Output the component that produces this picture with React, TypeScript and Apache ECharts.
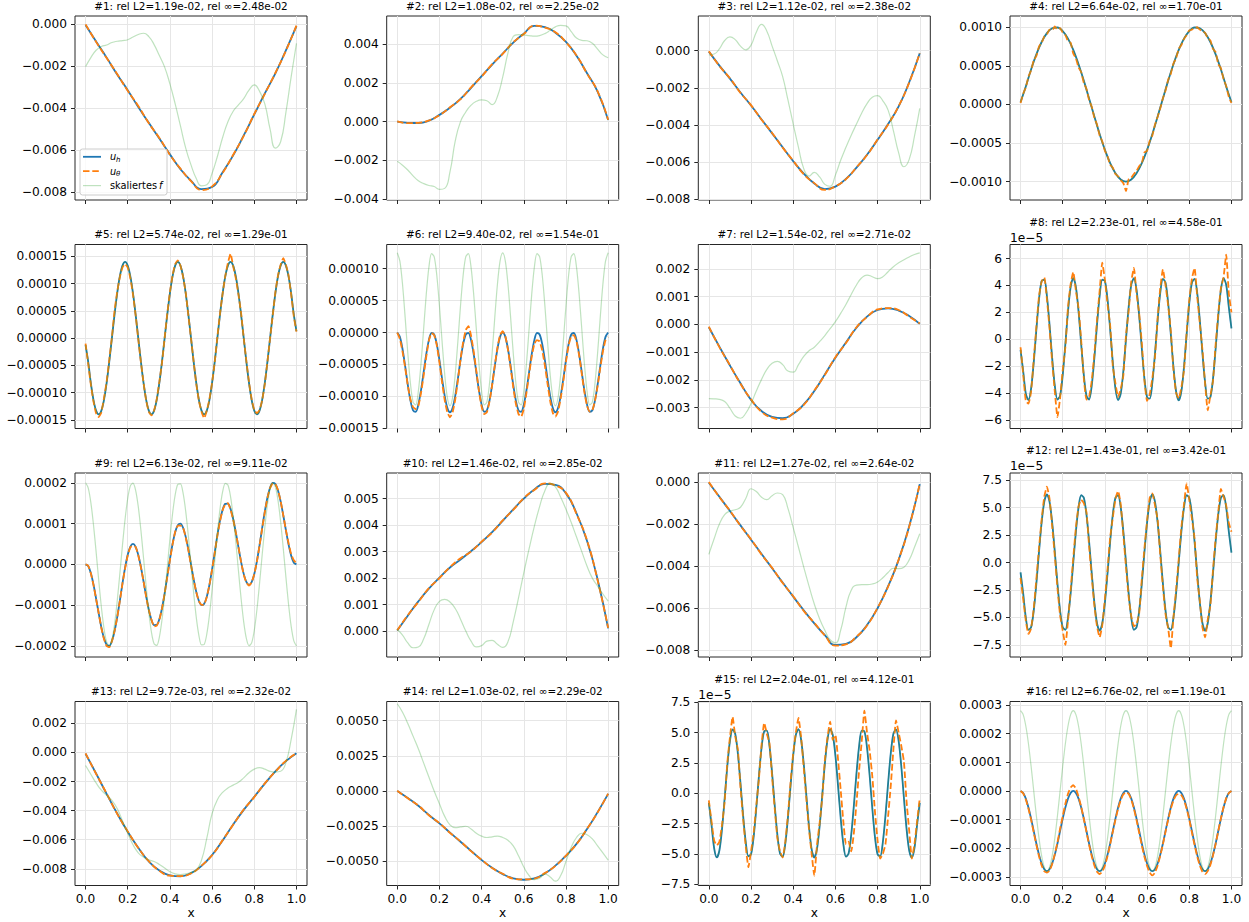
import React, { useEffect, useRef } from "react";
import * as echarts from "echarts";

// ---------- x grids and ticks ----------
const X21 = Array.from({ length: 21 }, (_, i) => i / 20);
const X41 = Array.from({ length: 41 }, (_, i) => i / 40);
const X81 = Array.from({ length: 81 }, (_, i) => i / 80);
const X_TICKS = [0, 0.2, 0.4, 0.6, 0.8, 1.0];

const TITLES = [
  "#1: rel L2=1.19e-02, rel ∞=2.48e-02",
  "#2: rel L2=1.08e-02, rel ∞=2.25e-02",
  "#3: rel L2=1.12e-02, rel ∞=2.38e-02",
  "#4: rel L2=6.64e-02, rel ∞=1.70e-01",
  "#5: rel L2=5.74e-02, rel ∞=1.29e-01",
  "#6: rel L2=9.40e-02, rel ∞=1.54e-01",
  "#7: rel L2=1.54e-02, rel ∞=2.71e-02",
  "#8: rel L2=2.23e-01, rel ∞=4.58e-01",
  "#9: rel L2=6.13e-02, rel ∞=9.11e-02",
  "#10: rel L2=1.46e-02, rel ∞=2.85e-02",
  "#11: rel L2=1.27e-02, rel ∞=2.64e-02",
  "#12: rel L2=1.43e-01, rel ∞=3.42e-01",
  "#13: rel L2=9.72e-03, rel ∞=2.32e-02",
  "#14: rel L2=1.03e-02, rel ∞=2.29e-02",
  "#15: rel L2=2.04e-01, rel ∞=4.12e-01",
  "#16: rel L2=6.76e-02, rel ∞=1.19e-01",
];

// ---------- #1 (units 1e-3) ----------
const uh1 = [-0.05,-0.83,-1.6,-2.4,-3.15,-3.95,-4.7,-5.45,-6.2,-6.9,-7.45,-7.85,-7.75,-7.05,-6.25,-5.3,-4.3,-3.3,-2.35,-1.25,-0.1];
const ut1 = [-0.02,-0.85,-1.62,-2.38,-3.18,-3.9,-4.72,-5.42,-6.22,-6.88,-7.47,-7.9,-7.72,-7.08,-6.22,-5.32,-4.28,-3.32,-2.33,-1.27,-0.08];
const f1 = [-2.03,-1.6,-1.25,-1.07,-1.0,-0.88,-0.82,-0.79,-0.75,-0.62,-0.5,-0.44,-0.6,-0.98,-1.5,-2.05,-2.85,-3.8,-4.85,-5.9,-6.7,-7.35,-7.7,-7.65,-7.1,-6.3,-5.4,-4.65,-4.15,-3.85,-3.55,-3.15,-2.9,-3.2,-3.8,-5.0,-5.9,-5.6,-4.2,-2.5,-0.92];

// ---------- #2 (units 1e-3) ----------
const uh2 = [0,-0.06,-0.07,0.05,0.35,0.72,1.18,1.75,2.35,2.95,3.52,4.08,4.55,4.95,4.88,4.6,4.12,3.4,2.5,1.55,0.08];
const ut2 = [0.01,-0.08,-0.06,0.06,0.33,0.74,1.16,1.77,2.33,2.97,3.5,4.1,4.53,4.96,4.86,4.62,4.1,3.42,2.48,1.57,0.1];
const f2 = [-2.05,-2.25,-2.5,-2.8,-3.05,-3.2,-3.3,-3.35,-3.5,-3.45,-2.6,-1.0,0.0,0.5,0.85,1.05,1.12,1.08,0.88,1.3,2.3,3.55,4.4,4.5,4.48,4.45,4.42,4.45,4.55,4.72,4.9,4.98,4.95,4.65,4.32,4.2,4.18,4.05,3.75,3.45,3.3];

// ---------- #3 (units 1e-3) ----------
const uh3 = [-0.05,-0.8,-1.5,-2.25,-2.95,-3.7,-4.45,-5.2,-5.95,-6.62,-7.15,-7.45,-7.32,-6.9,-6.3,-5.6,-4.8,-3.95,-3.0,-1.7,-0.14];
const ut3 = [-0.03,-0.82,-1.48,-2.27,-2.93,-3.72,-4.43,-5.22,-5.93,-6.65,-7.13,-7.5,-7.3,-6.92,-6.28,-5.62,-4.78,-3.97,-2.98,-1.72,-0.12];
const f3 = [-0.23,-0.18,0.1,0.55,0.75,0.6,0.25,0.05,0.3,1.0,1.42,1.05,0.25,-0.55,-1.4,-2.65,-3.95,-5.2,-6.35,-6.75,-6.55,-6.8,-7.2,-7.3,-6.7,-5.9,-5.2,-4.55,-3.95,-3.35,-2.85,-2.5,-2.42,-2.7,-3.2,-4.3,-5.5,-6.25,-5.85,-4.6,-3.1];

// ---------- #4 (units 1e-3) ----------
const uh4 = [0.03,0.233,0.454,0.649,0.809,0.924,0.988,0.997,0.951,0.853,0.707,0.522,0.309,0.078,-0.156,-0.383,-0.588,-0.76,-0.891,-0.972,-1.0,-0.972,-0.891,-0.76,-0.588,-0.383,-0.156,0.078,0.309,0.522,0.707,0.853,0.951,0.997,0.988,0.924,0.809,0.649,0.454,0.233,0.03];
const ut4 = [0.02,0.14,0.22,0.36,0.44,0.57,0.63,0.75,0.8,0.88,0.91,0.97,0.96,1.01,0.97,0.99,0.93,0.9,0.82,0.8,
  0.66,0.6,0.48,0.42,0.28,0.2,0.06,-0.03,-0.17,-0.26,-0.4,-0.48,-0.6,-0.67,-0.78,-0.82,-0.9,-0.93,-0.98,-1.02,
  -1.12,-0.97,-0.95,-0.9,-0.86,-0.8,-0.76,-0.62,-0.6,-0.47,-0.4,-0.26,-0.16,-0.05,0.08,0.18,0.32,0.4,0.53,0.6,
  0.72,0.77,0.85,0.9,0.96,0.97,0.99,1.0,0.97,0.95,0.93,0.86,0.83,0.72,0.68,0.52,0.47,0.33,0.24,0.1,0.02];

// ---------- #5 (units 1e-4) ----------
const uh5 = [-0.13,-0.433,-0.823,-1.133,-1.331,-1.4,-1.331,-1.133,-0.823,-0.433,0,0.433,0.823,1.133,1.331,1.4,1.331,1.133,0.823,0.433,
  0,-0.433,-0.823,-1.133,-1.331,-1.4,-1.331,-1.133,-0.823,-0.433,0,0.433,0.823,1.133,1.331,1.4,1.331,1.133,0.823,0.433,
  0,-0.433,-0.823,-1.133,-1.331,-1.4,-1.331,-1.133,-0.823,-0.433,0,0.433,0.823,1.133,1.331,1.4,1.331,1.133,0.823,0.433,
  0,-0.433,-0.823,-1.133,-1.331,-1.4,-1.331,-1.133,-0.823,-0.433,0,0.433,0.823,1.133,1.331,1.4,1.331,1.133,0.823,0.433,0.13];
const ut5 = [-0.1,-0.47,-0.85,-1.16,-1.38,-1.45,-1.36,-1.1,-0.8,-0.4,0.02,0.5,0.85,1.12,1.3,1.36,1.3,1.1,0.8,0.42,
  -0.02,-0.44,-0.82,-1.15,-1.35,-1.42,-1.33,-1.12,-0.8,-0.45,0.0,0.45,0.84,1.15,1.36,1.43,1.33,1.13,0.83,0.42,
  0.0,-0.43,-0.84,-1.15,-1.35,-1.47,-1.33,-1.12,-0.82,-0.44,0.02,0.45,0.82,1.14,1.38,1.55,1.32,1.1,0.8,0.46,
  0.0,-0.42,-0.81,-1.12,-1.32,-1.38,-1.32,-1.14,-0.84,-0.43,0.0,0.42,0.84,1.15,1.35,1.47,1.35,1.15,0.8,0.4,0.12];

// ---------- #6 (units 1e-4) ----------
const uh6 = [0,-0.068,-0.258,-0.527,-0.818,-1.067,-1.219,-1.242,-1.131,-0.909,-0.625,-0.341,-0.119,-0.008,-0.031,-0.183,-0.432,-0.723,-0.993,-1.182,
  -1.25,-1.182,-0.993,-0.723,-0.432,-0.183,-0.031,-0.008,-0.119,-0.341,-0.625,-0.909,-1.131,-1.242,-1.219,-1.067,-0.818,-0.527,-0.258,-0.068,
  0,-0.068,-0.258,-0.527,-0.818,-1.067,-1.219,-1.242,-1.131,-0.909,-0.625,-0.341,-0.119,-0.008,-0.031,-0.183,-0.432,-0.723,-0.993,-1.182,
  -1.25,-1.182,-0.993,-0.723,-0.432,-0.183,-0.031,-0.008,-0.119,-0.341,-0.625,-0.909,-1.131,-1.242,-1.219,-1.067,-0.818,-0.527,-0.258,-0.068,0];
const ut6 = [0.0,-0.1,-0.3,-0.55,-0.83,-1.05,-1.17,-1.2,-1.15,-0.95,-0.68,-0.38,-0.13,-0.01,-0.04,-0.2,-0.47,-0.78,-1.06,-1.25,
  -1.33,-1.25,-1.05,-0.75,-0.42,-0.15,0.04,0.1,-0.05,-0.3,-0.6,-0.92,-1.16,-1.28,-1.25,-1.08,-0.82,-0.52,-0.24,-0.04,
  0.02,-0.06,-0.27,-0.55,-0.86,-1.12,-1.28,-1.32,-1.2,-0.95,-0.66,-0.38,-0.18,-0.12,-0.14,-0.28,-0.52,-0.8,-1.07,-1.26,
  -1.32,-1.24,-1.03,-0.76,-0.46,-0.2,-0.06,-0.04,-0.14,-0.36,-0.65,-0.94,-1.15,-1.24,-1.22,-1.07,-0.84,-0.56,-0.3,-0.12,-0.07];
const f6 = [1.25,1.119,0.756,0.237,-0.321,-0.798,-1.091,-1.136,-0.921,-0.495,0.05,0.595,1.021,1.236,1.191,0.898,0.421,-0.137,-0.656,-1.019,
  -1.15,-1.019,-0.656,-0.137,0.421,0.898,1.191,1.236,1.021,0.595,0.05,-0.495,-0.921,-1.136,-1.091,-0.798,-0.321,0.237,0.756,1.119,
  1.25,1.119,0.756,0.237,-0.321,-0.798,-1.091,-1.136,-0.921,-0.495,0.05,0.595,1.021,1.236,1.191,0.898,0.421,-0.137,-0.656,-1.019,
  -1.15,-1.019,-0.656,-0.137,0.421,0.898,1.191,1.236,1.021,0.595,0.05,-0.495,-0.921,-1.136,-1.091,-0.798,-0.321,0.237,0.756,1.119,1.25];

// ---------- #7 (units 1e-3) ----------
const uh7 = [-0.1,-0.8,-1.48,-2.12,-2.72,-3.12,-3.33,-3.38,-3.22,-2.88,-2.4,-1.8,-1.2,-0.65,-0.12,0.28,0.52,0.58,0.5,0.3,0.02];
const ut7 = [-0.08,-0.82,-1.47,-2.14,-2.7,-3.15,-3.36,-3.42,-3.2,-2.9,-2.38,-1.82,-1.18,-0.67,-0.1,0.27,0.54,0.59,0.52,0.28,0.03];
const f7 = [-2.67,-2.68,-2.7,-2.78,-3.02,-3.3,-3.38,-3.2,-2.85,-2.4,-1.98,-1.62,-1.4,-1.33,-1.45,-1.68,-1.72,-1.45,-1.15,-0.95,-0.82,-0.62,-0.4,-0.15,0.1,0.4,0.72,1.08,1.42,1.68,1.78,1.72,1.65,1.72,1.9,2.08,2.22,2.33,2.43,2.52,2.58];

// ---------- #8 (units 1e-5) ----------
const uh8 = [-0.8,-2.377,-4.054,-4.536,-3.681,-1.741,0.712,2.955,4.327,4.424,3.217,1.062,-1.406,-3.46,-4.494,-4.204,-2.674,-0.357,2.066,3.879,
  4.55,3.879,2.066,-0.357,-2.674,-4.204,-4.494,-3.46,-1.406,1.062,3.217,4.424,4.327,2.955,0.712,-1.741,-3.681,-4.536,-4.054,-2.377,
  0,2.377,4.054,4.536,3.681,1.741,-0.712,-2.955,-4.327,-4.424,-3.217,-1.062,1.406,3.46,4.494,4.204,2.674,0.357,-2.066,-3.879,
  -4.55,-3.879,-2.066,0.357,2.674,4.204,4.494,3.46,1.406,-1.062,-3.217,-4.424,-4.327,-2.955,-0.712,1.741,3.681,4.536,4.054,2.377,0.8];
const ut8 = [-0.6,-2.6,-4.6,-4.8,-3.9,-1.5,0.9,3.2,4.3,4.6,3.0,0.8,-1.7,-3.9,-5.8,-4.4,-2.3,-0.6,2.4,4.1,
  5.0,3.6,2.3,-0.1,-2.9,-4.5,-4.3,-3.1,-1.1,1.4,3.6,5.7,4.4,2.6,1.0,-2.0,-3.3,-4.3,-3.7,-2.7,
  0.3,2.1,4.3,5.3,3.4,1.9,-0.3,-3.1,-4.6,-4.1,-2.9,-1.3,1.6,3.8,5.2,4.0,2.5,0.6,-2.3,-4.0,
  -4.4,-3.6,-2.3,0.5,2.9,4.5,5.3,3.2,1.2,-0.8,-3.3,-5.3,-4.2,-3.1,-0.4,1.9,3.8,4.6,6.3,3.4,2.0];

// ---------- #9 (units 1e-4) ----------
const uh9 = [0,-0.041,-0.213,-0.491,-0.837,-1.204,-1.544,-1.812,-1.97,-1.996,-1.883,-1.642,-1.298,-0.892,-0.469,-0.078,0.235,0.436,0.503,0.431,
  0.233,-0.063,-0.418,-0.783,-1.111,-1.357,-1.488,-1.483,-1.34,-1.073,-0.712,-0.297,0.123,0.5,0.79,0.963,0.999,0.897,0.674,0.361,
  0,-0.361,-0.674,-0.897,-0.999,-0.963,-0.79,-0.5,-0.123,0.297,0.712,1.073,1.34,1.483,1.488,1.357,1.111,0.783,0.418,0.063,
  -0.233,-0.431,-0.503,-0.436,-0.235,0.078,0.469,0.892,1.298,1.642,1.883,1.996,1.97,1.812,1.544,1.204,0.837,0.491,0.213,0.041,0];
const ut9 = [0,-0.03,-0.22,-0.5,-0.85,-1.2,-1.56,-1.83,-2.0,-2.03,-1.88,-1.63,-1.3,-0.9,-0.47,-0.1,0.22,0.42,0.45,0.43,
  0.22,-0.07,-0.42,-0.8,-1.12,-1.36,-1.52,-1.5,-1.36,-1.08,-0.72,-0.3,0.1,0.49,0.8,0.95,0.95,0.9,0.66,0.35,
  -0.02,-0.37,-0.68,-0.9,-0.99,-0.98,-0.8,-0.5,-0.13,0.28,0.7,1.06,1.33,1.47,1.5,1.34,1.1,0.78,0.42,0.06,
  -0.25,-0.44,-0.52,-0.44,-0.24,0.07,0.46,0.88,1.28,1.63,1.87,1.98,1.97,1.82,1.55,1.2,0.84,0.52,0.25,0.1,0.03];
const f9 = [2.0,1.876,1.521,0.977,0.313,-0.39,-1.045,-1.571,-1.902,-1.998,-1.848,-1.469,-0.908,-0.235,0.467,1.111,1.618,1.925,1.994,1.816,
  1.414,0.837,0.157,-0.543,-1.176,-1.663,-1.945,-1.986,-1.782,-1.358,-0.765,-0.079,0.618,1.238,1.705,1.962,1.975,1.745,1.299,0.692,
  0,-0.692,-1.299,-1.745,-1.975,-1.962,-1.705,-1.238,-0.618,0.079,0.765,1.358,1.782,1.986,1.945,1.663,1.176,0.543,-0.157,-0.837,
  -1.414,-1.816,-1.994,-1.925,-1.618,-1.111,-0.467,0.235,0.908,1.469,1.848,1.998,1.902,1.571,1.045,0.39,-0.313,-0.977,-1.521,-1.876,-2.0];

// ---------- #10 (units 1e-3) ----------
const uh10 = [0.02,0.58,1.12,1.6,2.02,2.4,2.7,3.02,3.36,3.74,4.16,4.6,5.0,5.35,5.56,5.52,5.2,4.45,3.4,1.95,0.1];
const ut10 = [0.03,0.6,1.1,1.62,2.0,2.42,2.75,3.0,3.38,3.72,4.18,4.58,5.02,5.33,5.58,5.5,5.22,4.42,3.42,1.92,0.12];
const f10 = [0.06,-0.15,-0.45,-0.63,-0.6,-0.3,0.25,0.8,1.12,1.2,1.1,0.85,0.45,0.0,-0.38,-0.6,-0.55,-0.38,-0.35,-0.5,-0.62,-0.4,0.35,1.25,2.2,3.1,3.95,4.7,5.3,5.58,5.45,5.05,4.6,4.1,3.55,3.0,2.45,2.0,1.7,1.4,1.13];

// ---------- #11 (units 1e-3) ----------
const uh11 = [-0.03,-0.7,-1.38,-2.06,-2.74,-3.42,-4.1,-4.78,-5.45,-6.1,-6.72,-7.28,-7.75,-7.7,-7.38,-6.8,-6.0,-4.95,-3.7,-2.1,-0.1];
const ut11 = [0.0,-0.72,-1.36,-2.08,-2.72,-3.45,-4.08,-4.8,-5.43,-6.13,-6.7,-7.3,-7.78,-7.72,-7.35,-6.82,-5.98,-4.97,-3.68,-2.12,-0.08];
const f11 = [-3.44,-2.7,-2.0,-1.55,-1.38,-1.32,-1.2,-0.78,-0.32,-0.45,-0.72,-0.84,-0.65,-0.52,-0.6,-1.25,-2.17,-3.1,-4.05,-4.95,-5.8,-6.5,-7.05,-7.5,-7.65,-7.05,-5.95,-5.15,-4.9,-4.88,-4.88,-4.85,-4.75,-4.55,-4.3,-4.1,-4.12,-4.05,-3.7,-3.1,-2.46];

// ---------- #12 (units 1e-5) ----------
const uh12 = [-0.9,-2.815,-5.016,-6.124,-5.897,-4.384,-1.916,0.97,3.644,5.524,6.2,5.524,3.644,0.97,-1.916,-4.384,-5.897,-6.124,-5.016,-2.815,
  0,2.815,5.016,6.124,5.897,4.384,1.916,-0.97,-3.644,-5.524,-6.2,-5.524,-3.644,-0.97,1.916,4.384,5.897,6.124,5.016,2.815,
  0,-2.815,-5.016,-6.124,-5.897,-4.384,-1.916,0.97,3.644,5.524,6.2,5.524,3.644,0.97,-1.916,-4.384,-5.897,-6.124,-5.016,-2.815,
  0,2.815,5.016,6.124,5.897,4.384,1.916,-0.97,-3.644,-5.524,-6.2,-5.524,-3.644,-0.97,1.916,4.384,5.897,6.124,5.016,2.815,0.9];
const ut12 = [-1.4,-3.3,-5.3,-6.5,-6.0,-4.2,-1.5,1.3,3.9,6.0,6.9,5.8,3.3,0.6,-2.3,-4.8,-6.2,-7.5,-5.3,-2.5,
  0.4,3.2,5.1,5.7,5.4,4.6,1.5,-1.3,-3.9,-5.8,-6.8,-5.7,-3.3,-0.6,2.3,4.1,5.8,6.5,5.3,2.5,
  -0.4,-3.1,-4.9,-5.8,-5.6,-4.6,-1.5,1.3,3.8,5.9,6.3,5.2,3.9,0.7,-2.2,-4.7,-6.0,-7.8,-5.0,-2.5,
  0.3,3.2,5.3,7.2,5.7,4.0,2.2,-1.4,-3.5,-5.9,-6.8,-5.2,-3.9,-0.7,2.2,4.6,6.7,6.0,5.2,3.6,2.8];

// ---------- #13 (units 1e-3) ----------
const uh13 = [-0.09,-1.45,-2.85,-4.2,-5.45,-6.55,-7.5,-8.12,-8.45,-8.52,-8.3,-7.8,-7.05,-6.05,-4.95,-3.95,-3.05,-2.15,-1.3,-0.6,-0.05];
const ut13 = [-0.07,-1.47,-2.83,-4.22,-5.43,-6.57,-7.48,-8.14,-8.47,-8.5,-8.32,-7.78,-7.07,-6.03,-4.97,-3.93,-3.07,-2.13,-1.32,-0.58,-0.04];
const f13 = [-0.9,-1.5,-2.1,-2.6,-2.95,-3.3,-3.85,-4.7,-5.55,-6.35,-6.9,-7.2,-7.38,-7.5,-7.7,-7.95,-8.2,-8.35,-8.4,-8.35,-8.25,-8.1,-7.4,-5.9,-4.2,-3.25,-2.75,-2.45,-2.25,-2.05,-1.75,-1.4,-1.15,-1.05,-1.15,-1.3,-1.35,-1.3,-0.7,0.9,2.96];

// ---------- #14 (units 1e-3) ----------
const uh14 = [0,-0.5,-1.05,-1.7,-2.3,-2.95,-3.6,-4.25,-4.9,-5.45,-5.9,-6.2,-6.3,-6.2,-5.85,-5.3,-4.6,-3.75,-2.7,-1.5,-0.2];
const ut14 = [0.02,-0.52,-1.03,-1.72,-2.28,-2.97,-3.58,-4.27,-4.88,-5.47,-5.88,-6.22,-6.28,-6.22,-5.83,-5.32,-4.58,-3.77,-2.68,-1.52,-0.18];
const f14 = [6.2,5.6,4.8,3.9,3.0,2.0,1.0,0.0,-0.9,-1.8,-2.4,-2.6,-2.55,-2.5,-2.7,-3.0,-3.2,-3.3,-3.25,-3.2,-3.3,-3.5,-3.9,-4.6,-5.4,-6.0,-6.3,-6.2,-5.9,-6.1,-6.4,-6.0,-5.0,-4.0,-3.3,-3.0,-3.1,-3.4,-3.9,-4.4,-4.9];

// ---------- #15 (units 1e-5) ----------
const uh15 = [-0.8,-2.59,-4.519,-5.296,-4.722,-2.945,-0.416,2.219,4.288,5.263,4.897,3.281,0.829,-1.834,-4.03,-5.198,-5.041,-3.598,-1.237,1.438,
  3.748,5.101,5.154,3.892,1.638,-1.034,-3.442,-4.972,-5.235,-4.162,-2.028,0.623,3.115,4.813,5.284,4.407,2.406,-0.208,-2.769,-4.624,
  -5.3,-4.624,-2.769,-0.208,2.406,4.407,5.284,4.813,3.115,0.623,-2.028,-4.162,-5.235,-4.972,-3.442,-1.034,1.638,3.892,5.154,5.101,
  3.748,1.438,-1.237,-3.598,-5.041,-5.198,-4.03,-1.834,0.829,3.281,4.897,5.263,4.288,2.219,-0.416,-2.945,-4.722,-5.296,-4.519,-2.59,-0.8];
const ut15 = [-0.6,-2.3,-3.9,-4.3,-4.0,-2.6,-0.7,2.5,4.6,6.3,4.7,3.6,0.5,-2.1,-4.4,-6.1,-4.8,-3.3,-1.0,1.2,
  4.0,5.8,4.9,4.1,1.3,-1.3,-3.7,-4.8,-5.3,-4.0,-1.8,0.9,3.3,5.0,6.2,4.6,2.1,-0.5,-3.0,-5.0,
  -6.8,-4.3,-2.5,-0.4,2.7,4.6,5.9,4.4,4.8,2.8,0.3,-2.3,-4.2,-4.0,-4.8,-3.3,-0.8,1.9,4.3,6.8,
  5.0,3.5,1.4,-1.5,-3.9,-5.4,-5.0,-4.2,-1.9,0.6,3.6,6.0,5.0,3.9,2.6,-0.7,-3.1,-5.4,-4.2,-2.3,-0.4];

// ---------- #16 (units 1e-4) ----------
const uh16 = [0,-0.069,-0.267,-0.577,-0.967,-1.4,-1.833,-2.223,-2.533,-2.731,-2.8,-2.731,-2.533,-2.223,-1.833,-1.4,-0.967,-0.577,-0.267,-0.069,
  0,-0.069,-0.267,-0.577,-0.967,-1.4,-1.833,-2.223,-2.533,-2.731,-2.8,-2.731,-2.533,-2.223,-1.833,-1.4,-0.967,-0.577,-0.267,-0.069,
  0,-0.069,-0.267,-0.577,-0.967,-1.4,-1.833,-2.223,-2.533,-2.731,-2.8,-2.731,-2.533,-2.223,-1.833,-1.4,-0.967,-0.577,-0.267,-0.069,
  0,-0.069,-0.267,-0.577,-0.967,-1.4,-1.833,-2.223,-2.533,-2.731,-2.8,-2.731,-2.533,-2.223,-1.833,-1.4,-0.967,-0.577,-0.267,-0.069,0];
const ut16 = [0.0,-0.08,-0.3,-0.62,-1.0,-1.45,-1.88,-2.28,-2.6,-2.8,-2.85,-2.78,-2.55,-2.2,-1.8,-1.32,-0.88,-0.45,-0.1,0.12,
  0.2,0.08,-0.2,-0.55,-0.98,-1.43,-1.88,-2.28,-2.6,-2.82,-2.9,-2.82,-2.6,-2.27,-1.86,-1.42,-1.0,-0.62,-0.32,-0.12,
  -0.05,-0.1,-0.3,-0.62,-1.02,-1.46,-1.9,-2.3,-2.62,-2.85,-2.95,-2.85,-2.6,-2.26,-1.86,-1.42,-1.0,-0.62,-0.33,-0.15,
  -0.1,-0.15,-0.32,-0.62,-1.0,-1.45,-1.88,-2.28,-2.6,-2.82,-2.9,-2.8,-2.58,-2.25,-1.85,-1.4,-0.96,-0.57,-0.26,-0.07,0.0];
const f16 = [2.8,2.663,2.265,1.646,0.865,0,-0.865,-1.646,-2.265,-2.663,-2.8,-2.663,-2.265,-1.646,-0.865,0,0.865,1.646,2.265,2.663,
  2.8,2.663,2.265,1.646,0.865,0,-0.865,-1.646,-2.265,-2.663,-2.8,-2.663,-2.265,-1.646,-0.865,0,0.865,1.646,2.265,2.663,
  2.8,2.663,2.265,1.646,0.865,0,-0.865,-1.646,-2.265,-2.663,-2.8,-2.663,-2.265,-1.646,-0.865,0,0.865,1.646,2.265,2.663,
  2.8,2.663,2.265,1.646,0.865,0,-0.865,-1.646,-2.265,-2.663,-2.8,-2.663,-2.265,-1.646,-0.865,0,0.865,1.646,2.265,2.663,2.8];

// ---------- per-panel axis settings ----------
const UNITS = [1e-3, 1e-3, 1e-3, 1e-3, 1e-4, 1e-4, 1e-3, 1, 1e-4, 1e-3, 1e-3, 1, 1e-3, 1e-3, 1, 1e-4];
const DECIMALS = [3, 3, 3, 4, 5, 5, 3, 0, 4, 3, 3, 1, 3, 4, 1, 4];
const YLIMS: [number, number][] = [
  [-8.37, 0.38], [-4.05, 5.46], [-8.04, 1.87], [-1.237, 1.146],
  [-1.66, 1.72], [-1.505, 1.38], [-3.75, 2.88], [-6.65, 7.05],
  [-2.27, 2.24], [-0.98, 5.97], [-8.32, 0.43], [-8.6, 8.15],
  [-9.15, 3.5], [-6.71, 6.36], [-7.61, 7.56], [-3.3, 3.12],
];
const YTICKS = [
  [-8, -6, -4, -2, 0], [-4, -2, 0, 2, 4], [-8, -6, -4, -2, 0], [-1, -0.5, 0, 0.5, 1],
  [-1.5, -1, -0.5, 0, 0.5, 1, 1.5], [-1.5, -1, -0.5, 0, 0.5, 1], [-3, -2, -1, 0, 1, 2], [-6, -4, -2, 0, 2, 4, 6],
  [-2, -1, 0, 1, 2], [0, 1, 2, 3, 4, 5], [-8, -6, -4, -2, 0], [-7.5, -5, -2.5, 0, 2.5, 5, 7.5],
  [-8, -6, -4, -2, 0, 2], [-5, -2.5, 0, 2.5, 5], [-7.5, -5, -2.5, 0, 2.5, 5, 7.5], [-3, -2, -1, 0, 1, 2, 3],
];
const OFFSET_TEXT = ["", "", "", "", "", "", "", "1e−5", "", "", "", "1e−5", "", "", "1e−5", ""];

const PANEL_U_H = [uh1, uh2, uh3, uh4, uh5, uh6, uh7, uh8, uh9, uh10, uh11, uh12, uh13, uh14, uh15, uh16];
const PANEL_U_T = [ut1, ut2, ut3, ut4, ut5, ut6, ut7, ut8, ut9, ut10, ut11, ut12, ut13, ut14, ut15, ut16];
const PANEL_F = [f1, f2, f3, uh4, uh5, f6, f7, uh8, f9, f10, f11, uh12, f13, f14, uh15, f16];

const gridFor = (n: number) => (n === 21 ? X21 : n === 41 ? X41 : X81);

// ---------- layout ----------
const COL_LEFT = [75, 386.7, 698.3, 1010];
const ROW_TOP = [16, 244.5, 473, 701.5];
const PW = 232;
const PH = 184;
const FONT = "DejaVu Sans";
const TICK_FS = 12.2;
const TITLE_FS = 10.4;

function fmt(v: number, unit: number, dec: number) {
  let s = (v * unit).toFixed(dec);
  if (Number(s) === 0) s = s.replace("-", "");
  if (s.startsWith("-")) s = "\u2212" + s.slice(1);
  return s;
}

function text(x: number, y: number, t: string, size: number, align = "center", vAlign = "middle", extra: any = {}) {
  return {
    type: "text",
    x,
    y,
    silent: true,
    z: 100,
    style: {
      text: t,
      fontSize: size,
      fontFamily: FONT,
      fill: "#000",
      align,
      verticalAlign: vAlign,
      textAlign: align,
      textVerticalAlign: vAlign,
      ...extra,
    },
  };
}

function buildOption() {
  const grids: any[] = [];
  const xAxes: any[] = [];
  const yAxes: any[] = [];
  const series: any[] = [];
  const graphics: any[] = [];

  for (let k = 0; k < 16; k++) {
    const col = k % 4;
    const row = Math.floor(k / 4);
    const left = COL_LEFT[col];
    const top = ROW_TOP[row];
    const unit = UNITS[k];
    const dec = DECIMALS[k];

    grids.push({
      left, top, width: PW, height: PH,
      show: true, borderColor: "#262626", borderWidth: 1, backgroundColor: "transparent",
      containLabel: false, outerBoundsMode: "none",
    });

    xAxes.push({
      type: "value", gridIndex: k, min: -0.05, max: 1.05,
      axisLine: { show: false, onZero: false },
      axisTick: { show: true, length: 4, customValues: X_TICKS, lineStyle: { color: "#262626", width: 1 } },
      axisLabel: {
        show: row === 3, customValues: X_TICKS, margin: 7,
        fontSize: TICK_FS, fontFamily: FONT, color: "#000",
        formatter: (v: number) => v.toFixed(1),
      },
      splitLine: { show: true, lineStyle: { color: "#e6e6e6", width: 1 } },
    });

    const yt = YTICKS[k];
    yAxes.push({
      type: "value", gridIndex: k, min: YLIMS[k][0], max: YLIMS[k][1],
      axisLine: { show: false, onZero: false },
      axisTick: { show: true, length: 4, customValues: yt, lineStyle: { color: "#262626", width: 1 } },
      axisLabel: {
        show: true, customValues: yt, margin: 8,
        fontSize: TICK_FS, fontFamily: FONT, color: "#000",
        formatter: (v: number) => fmt(v, unit, dec),
      },
      splitLine: { show: true, lineStyle: { color: "#e6e6e6", width: 1 } },
    });

    const uh = PANEL_U_H[k];
    const ut = PANEL_U_T[k];
    const f = PANEL_F[k];
    const xh = gridFor(uh.length);
    const xt = gridFor(ut.length);
    const xf = gridFor(f.length);
    const smoothH = uh.length === 21 ? 0.5 : 0.3;
    const smoothT = ut.length === 21 ? 0.5 : 0.15;

    series.push({
      type: "line", xAxisIndex: k, yAxisIndex: k, silent: true, symbol: "none", showSymbol: false,
      smooth: smoothH, data: uh.map((y, i) => [xh[i], y]),
      lineStyle: { color: "#1f77b4", width: 1.8 }, z: 2,
    });
    series.push({
      type: "line", xAxisIndex: k, yAxisIndex: k, silent: true, symbol: "none", showSymbol: false,
      smooth: smoothT, data: ut.map((y, i) => [xt[i], y]),
      lineStyle: { color: "#ff7f0e", width: 1.8, type: [6.5, 2.8] }, z: 3,
    });
    series.push({
      type: "line", xAxisIndex: k, yAxisIndex: k, silent: true, symbol: "none", showSymbol: false,
      smooth: f.length === 81 ? 0.3 : 0.5, data: f.map((y, i) => [xf[i], y]),
      lineStyle: { color: "#2ca02c", width: 1.2, opacity: 0.3 }, z: 4,
    });

    const hasOffset = OFFSET_TEXT[k] !== "";
    graphics.push(text(left + PW / 2, top - (hasOffset ? 23 : 10.5), TITLES[k], TITLE_FS));
    if (hasOffset) graphics.push(text(left, top - 7, OFFSET_TEXT[k], TICK_FS, "left"));
    if (row === 3) graphics.push(text(left + PW / 2, 913, "x", TICK_FS));
  }

  // legend in panel #1
  const lx = 80, ly = 149;
  graphics.push({
    type: "rect", silent: true, z: 90,
    shape: { x: lx, y: ly, width: 87, height: 46, r: 2.5 },
    style: { fill: "rgba(255,255,255,0.8)", stroke: "#cccccc", lineWidth: 1 },
  });
  const rows = [156.8, 171.2, 185.6];
  graphics.push({ type: "line", silent: true, z: 95, shape: { x1: 83, y1: rows[0], x2: 101, y2: rows[0] }, style: { stroke: "#1f77b4", lineWidth: 1.8 } });
  graphics.push({ type: "line", silent: true, z: 95, shape: { x1: 83, y1: rows[1], x2: 101, y2: rows[1] }, style: { stroke: "#ff7f0e", lineWidth: 1.8, lineDash: [6.5, 2.8] } });
  graphics.push({ type: "line", silent: true, z: 95, shape: { x1: 83, y1: rows[2], x2: 101, y2: rows[2] }, style: { stroke: "#2ca02c", lineWidth: 1.2, opacity: 0.3 } });
  graphics.push(text(110, rows[0], "u", 9.8, "left", "middle", { fontStyle: "italic" }));
  graphics.push(text(116, rows[0] + 2.8, "h", 7, "left", "middle", { fontStyle: "italic" }));
  graphics.push(text(110, rows[1], "u", 9.8, "left", "middle", { fontStyle: "italic" }));
  graphics.push(text(116, rows[1] + 2.8, "θ", 7, "left", "middle", { fontStyle: "italic" }));
  graphics.push(text(110, rows[2], "skaliertes", 9.8, "left", "middle"));
  graphics.push(text(159, rows[2], "f", 9.8, "left", "middle", { fontStyle: "italic" }));

  return {
    animation: false,
    backgroundColor: "#ffffff",
    grid: grids,
    xAxis: xAxes,
    yAxis: yAxes,
    series,
    graphic: { elements: graphics },
  };
}

export default function App() {
  const ref = useRef<HTMLDivElement>(null);
  useEffect(() => {
    document.body.style.margin = "0";
    const chart = echarts.init(ref.current as HTMLDivElement, null, { renderer: "svg" });
    chart.setOption(buildOption() as any);
    return () => chart.dispose();
  }, []);
  return <div ref={ref} style={{ width: 1249, height: 922 }} />;
}
